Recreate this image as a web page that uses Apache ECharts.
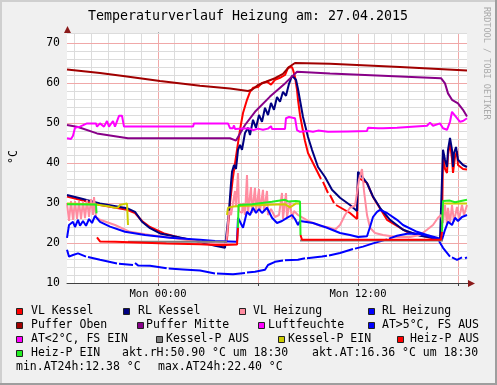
<!DOCTYPE html>
<html><head><meta charset="utf-8">
<script src="https://cdn.jsdelivr.net/npm/echarts@6/dist/echarts.min.js"></script>
<style>html,body{margin:0;padding:0;background:#f0f0f0}#c{width:497px;height:385px}</style>
</head><body><div id="c"></div>
<script>
// ---------- texts ----------
const chartTitle = 'Temperaturverlauf Heizung am: 27.04.2015';
const unitLabel = '°C';
const watermark = 'RRDTOOL / TOBI OETIKER';
const xTickValues = [0, 12];
const xTickLabels = ['Mon 00:00', 'Mon 12:00'];
const yTickValues = [10, 20, 30, 40, 50, 60, 70];
const seriesNames = ['VL Kessel','RL Kessel','VL Heizung','RL Heizung','Puffer Oben','Puffer Mitte','Luftfeuchte','AT>5°C, FS AUS','AT<2°C, FS EIN','Kessel-P AUS','Kessel-P EIN','Heiz-P AUS','Heiz-P EIN'];
const seriesColors = ['#ff0000','#000080','#ff8ca0','#0000ff','#a00000','#880088','#ff00ff','#0000ff','#ff00ff','#808080','#cccc00','#ff0000','#22ee22'];
const infoTexts = ['akt.rH:50.90 °C um 18:30','akt.AT:16.36 °C um 18:30','min.AT24h:12.38 °C','max.AT24h:22.40 °C'];

// ---------- data: [hours relative to Mon 00:00, °C] ----------
const vlKessel = [[-5.46,31.6],[-4.68,30.8],[-3.48,29.5],[-1.86,28.3],[-1.38,27.5],[-0.96,25.5],[-0.48,24.0],[0.42,22.3],[1.32,21.3],[2.52,20.3],[3.42,19.6],[4.02,19.2],[4.14,21.0],[4.32,30.0],[4.50,36.5],[4.74,43.3],[4.92,48.3],[5.10,52.5],[5.34,55.8],[5.52,57.8],[5.70,58.8],[6.00,59.0],[6.24,60.0],[6.54,60.3],[6.78,59.6],[7.02,60.8],[7.32,61.3],[7.62,62.0],[7.80,63.8],[8.04,64.0],[8.10,63.3],[8.22,61.5],[8.34,58.3],[8.40,55.8],[8.52,52.0],[8.70,48.0],[8.82,45.5],[9.00,42.5],[9.30,40.0],[9.60,37.5],[9.78,36.0],[9.84,null],[9.90,35.3],[10.20,32.5],[10.26,null],[10.32,32.0],[10.56,30.0],[10.62,null],[10.68,29.5],[10.74,29.0],[11.52,27.5],[11.94,26.0],[12.00,36.3],[12.24,35.8],[12.54,35.0],[12.90,31.5],[13.74,25.8],[14.94,22.8],[16.14,21.5],[16.92,20.8],[17.04,24.0],[17.10,42.0],[17.22,38.5],[17.34,37.5],[17.40,42.0],[17.52,45.0],[17.64,41.0],[17.70,37.5],[17.82,41.5],[17.94,43.0],[18.00,39.5],[18.12,39.0],[18.30,38.5],[18.54,38.4]];
const rlKessel = [[-5.46,32.0],[-4.68,31.2],[-3.48,29.9],[-1.86,28.7],[-1.38,27.8],[-0.96,25.3],[-0.48,23.7],[0.12,22.4],[1.02,21.6],[2.52,20.3],[3.42,19.3],[4.02,18.8],[4.14,19.2],[4.26,28.0],[4.38,35.0],[4.44,37.8],[4.56,39.5],[4.68,38.5],[4.80,43.3],[4.92,44.5],[5.04,43.3],[5.22,47.5],[5.40,48.8],[5.52,47.0],[5.70,50.8],[5.88,48.8],[6.06,52.0],[6.24,50.3],[6.42,53.8],[6.60,52.0],[6.78,55.0],[6.96,53.3],[7.14,56.5],[7.32,55.3],[7.50,57.8],[7.68,56.8],[7.86,59.8],[8.04,61.8],[8.16,62.3],[8.28,60.8],[8.40,58.5],[8.70,51.5],[9.00,46.5],[9.24,43.3],[9.60,39.0],[10.02,36.5],[10.44,33.3],[10.92,31.3],[11.52,29.5],[11.94,28.0],[12.00,37.8],[12.24,36.6],[12.54,35.0],[12.90,31.6],[13.32,28.8],[13.92,25.8],[14.70,23.3],[15.72,21.8],[16.50,21.3],[16.92,21.0],[17.04,21.5],[17.10,43.3],[17.22,40.8],[17.34,39.0],[17.40,43.3],[17.52,46.3],[17.64,43.3],[17.70,39.0],[17.76,42.5],[17.88,44.0],[18.00,40.8],[18.12,40.3],[18.30,39.5],[18.54,39.0]];
const vlHeizung = [[-5.46,30.0],[-5.34,25.5],[-5.22,30.5],[-5.10,25.8],[-4.98,30.5],[-4.86,26.0],[-4.74,30.5],[-4.62,26.0],[-4.50,30.5],[-4.38,26.2],[-4.26,30.8],[-4.14,26.5],[-4.02,31.0],[-3.90,27.0],[-3.84,31.5],[-3.72,26.5],[-3.48,25.8],[-2.58,24.5],[-1.68,22.8],[-0.48,22.0],[1.02,21.2],[2.52,20.3],[3.42,19.9],[4.08,19.7],[4.14,22.0],[4.26,28.0],[4.38,27.0],[4.62,33.0],[4.68,29.0],[4.80,37.5],[4.86,28.0],[5.04,27.5],[5.10,30.0],[5.22,27.0],[5.34,37.0],[5.40,27.5],[5.58,34.0],[5.64,27.5],[5.82,33.8],[5.88,28.0],[6.06,33.5],[6.12,28.0],[6.30,33.3],[6.36,28.0],[6.54,33.0],[6.60,27.0],[6.78,28.5],[7.02,26.5],[7.26,27.0],[7.44,32.5],[7.50,26.0],[7.68,32.5],[7.74,26.5],[7.92,30.3],[8.04,26.0],[8.16,28.0],[8.40,27.0],[8.52,26.5],[9.12,25.3],[9.72,24.3],[10.32,23.8],[10.62,23.3],[10.92,24.5],[11.22,27.0],[11.52,28.8],[11.82,29.3],[11.94,29.0],[12.06,35.8],[12.24,38.5],[12.36,33.0],[12.54,27.0],[12.72,23.8],[13.02,22.5],[13.50,22.0],[14.34,21.5],[15.12,21.5],[15.72,22.0],[16.14,23.3],[16.50,24.5],[16.80,26.3],[16.98,27.0],[17.10,25.0],[17.22,29.5],[17.34,24.5],[17.40,28.8],[17.52,25.0],[17.64,29.5],[17.76,25.3],[17.94,29.0],[18.06,26.0],[18.24,29.5],[18.36,27.0],[18.54,29.5]];
const rlHeizung = [[-5.46,21.3],[-5.34,24.5],[-5.28,24.5],[-5.10,25.3],[-4.98,24.0],[-4.80,25.8],[-4.68,24.3],[-4.50,25.5],[-4.32,24.3],[-4.14,26.0],[-3.96,25.0],[-3.78,26.8],[-3.48,25.3],[-2.88,24.1],[-1.98,22.8],[-0.78,22.0],[0.72,21.3],[2.52,20.8],[3.42,20.5],[4.74,20.3],[4.80,26.3],[5.10,23.8],[5.34,27.8],[5.52,27.0],[5.70,28.8],[5.88,27.5],[6.06,28.5],[6.24,27.5],[6.54,28.8],[6.84,26.3],[7.14,25.0],[7.44,25.5],[7.74,26.3],[8.04,27.0],[8.22,26.0],[8.40,24.5],[8.52,25.5],[9.30,25.0],[10.14,23.8],[10.92,22.5],[11.52,22.0],[12.00,21.5],[12.54,21.7],[12.72,24.0],[12.90,26.5],[13.14,27.8],[13.32,28.3],[13.74,27.5],[14.34,25.8],[14.70,24.5],[15.54,22.8],[16.14,22.0],[16.74,21.3],[17.04,20.8],[17.22,23.3],[17.40,25.3],[17.64,24.5],[17.82,26.3],[18.00,25.5],[18.24,26.5],[18.54,27.0]];
const pufferOben = [[-5.46,63.4],[-3.48,62.5],[-1.98,61.7],[0.12,60.5],[2.52,59.3],[4.32,58.6],[5.40,58.0],[5.64,58.3],[6.00,59.5],[6.48,60.3],[7.02,61.2],[7.50,62.3],[7.86,64.0],[8.22,65.0],[10.32,64.8],[14.52,64.0],[18.54,63.1]];
const pufferMitte = [[-5.46,49.5],[-4.80,49.0],[-3.66,47.4],[-1.80,46.2],[4.32,46.2],[4.68,45.6],[5.22,49.5],[5.82,52.8],[6.72,56.6],[7.62,59.9],[8.34,62.8],[10.32,62.4],[16.98,61.2],[17.22,59.9],[17.40,57.4],[17.64,55.8],[18.00,54.9],[18.30,53.3],[18.54,51.6]];
const luftfeuchte = [[-5.46,46.2],[-5.34,46.6],[-5.22,46.0],[-5.10,46.8],[-4.98,48.8],[-4.68,49.1],[-4.26,49.9],[-3.72,49.9],[-3.66,49.1],[-3.48,49.9],[-3.24,49.1],[-3.06,50.5],[-2.94,49.1],[-2.70,50.5],[-2.58,49.1],[-2.34,51.8],[-2.16,51.8],[-2.04,49.1],[-0.60,49.1],[-0.54,49.6],[-0.48,49.1],[0.90,49.1],[0.96,49.6],[1.02,49.1],[2.10,49.1],[2.16,49.9],[3.00,49.9],[3.06,50.3],[3.12,49.9],[4.20,49.9],[4.32,48.7],[4.50,48.7],[4.56,49.4],[4.62,48.5],[5.10,48.6],[5.16,48.2],[5.52,48.6],[5.70,48.2],[6.00,48.6],[6.30,48.3],[6.60,48.6],[6.78,49.2],[6.84,48.5],[7.62,48.5],[7.68,51.2],[7.86,51.5],[8.22,51.2],[8.34,48.2],[8.52,47.8],[9.00,48.0],[9.30,47.8],[9.60,48.1],[10.20,47.8],[11.40,47.9],[12.54,48.0],[12.60,48.8],[13.20,48.7],[13.26,49.1],[13.50,48.7],[14.34,48.8],[16.14,49.3],[16.32,50.1],[16.50,49.3],[16.92,49.9],[17.10,48.7],[17.34,48.3],[17.52,50.3],[17.64,52.8],[17.94,51.2],[18.12,50.3],[18.30,50.5],[18.54,51.2]];
const atWarm = [[-5.46,18.3],[-5.34,16.6],[-5.28,16.4],[-5.10,17.0],[-4.80,17.4],[-4.32,16.6],[-4.26,null],[-4.20,16.5],[-3.48,15.8],[-2.46,14.9],[-2.40,null],[-2.34,14.8],[-1.50,14.5],[-1.44,null],[-1.38,15.0],[-1.20,14.4],[-0.48,14.3],[0.52,13.7],[0.58,null],[0.64,13.6],[1.50,13.4],[2.52,13.1],[3.42,12.4],[3.48,null],[3.54,12.4],[4.50,12.2],[5.22,12.5],[5.28,null],[5.34,12.6],[5.82,12.8],[6.42,13.3],[6.60,14.5],[7.02,15.3],[7.50,15.6],[7.56,null],[7.62,15.7],[8.40,15.8],[8.82,16.2],[8.88,null],[8.94,16.2],[9.84,16.6],[10.14,16.8],[10.20,null],[10.26,16.9],[10.92,17.5],[11.70,18.5],[11.76,null],[11.82,18.6],[12.30,19.1],[12.90,19.9],[13.74,20.9],[13.80,null],[13.86,21.1],[14.34,21.8],[14.94,22.3],[15.54,22.4],[16.14,21.9],[16.74,20.8],[16.80,null],[16.86,20.5],[17.10,18.8],[17.52,16.6],[17.58,null],[17.64,16.4],[17.94,15.8],[18.24,16.4],[18.36,null],[18.42,16.2],[18.54,16.4]];
const atCold = [];
const kesselPAus = [[-1.80,20.3],[4.14,20.3],[4.20,null],[8.52,20.6],[17.10,20.6]];
const kesselPEin = [[-5.46,29.9],[-3.72,29.6],[-2.88,29.1],[-2.58,28.8],[-2.40,28.9],[-2.28,29.5],[-1.86,29.9],[-1.80,24.5],[-1.74,null],[4.14,27.0],[4.20,28.8],[4.50,29.1],[6.24,29.5],[7.62,29.7],[7.92,28.9],[8.28,29.9],[8.46,29.9],[8.52,null],[17.16,29.9],[18.54,29.9]];
const heizPAus = [[-3.66,21.4],[-3.48,20.4],[-2.58,20.3],[-1.68,20.2],[0.50,19.9],[2.52,19.7],[3.42,19.5],[4.02,19.5],[4.74,19.6],[4.80,23.8],[4.83,null],[8.55,22.0],[8.64,20.8],[12.00,20.8],[16.98,20.8],[17.04,22.8]];
const heizPEin = [[-5.46,29.7],[-3.72,29.6],[-3.69,27.4],[-3.66,null],[4.80,23.8],[4.83,29.5],[5.64,29.7],[6.84,30.3],[7.62,30.8],[7.80,30.4],[8.28,30.5],[8.52,30.4],[8.55,22.0],[8.58,null],[17.04,22.8],[17.10,30.5],[17.52,30.6],[17.82,30.2],[18.54,30.8]];
const seriesData = [vlKessel, rlKessel, vlHeizung, rlHeizung, pufferOben, pufferMitte, luftfeuchte, atWarm, atCold, kesselPAus, kesselPEin, heizPAus, heizPEin];

// ---------- layout / style ----------
const X_MIN = -5.46, X_MAX = 18.54, Y_MIN = 10, Y_MAX = 72.5;
const MONO = 'DejaVu Sans Mono';
const MINOR = '#dcdcdc', MAJOR = '#f0a8a8';
const grid = {left: 67, right: 30, top: 33, bottom: 102};

const gridLines = [];
for (let h = Math.ceil(X_MIN); h <= Math.floor(X_MAX); h++)
  gridLines.push({xAxis: h, lineStyle: {color: h % 6 === 0 ? MAJOR : MINOR, width: 1, type: 'solid'}});
for (let v = 12; v <= 70; v += 2)
  gridLines.push({yAxis: v, lineStyle: {color: v % 10 === 0 ? MAJOR : MINOR, width: 1, type: 'solid'}});
gridLines.push({yAxis: Y_MAX, lineStyle: {color: MINOR, width: 1, type: 'solid'}});

const series = [{
  type: 'line', data: [[X_MIN, null]], symbol: 'none', silent: true, z: 1,
  markLine: {silent: true, z: 1, symbol: ['none', 'none'], label: {show: false}, animation: false, data: gridLines}
}];
seriesNames.forEach((n, i) => series.push({
  name: n, type: 'line', data: seriesData[i], symbol: 'none', showSymbol: false,
  connectNulls: false, z: 3, animation: false,
  lineStyle: {color: seriesColors[i], width: 2}, itemStyle: {color: seriesColors[i]}
}));

// legend layout [seriesIndex, squareX, textX, row]
const legendLayout = [[0,16,31,0],[1,123,138,0],[2,239,253,0],[3,368,382,0],
  [4,16,31,1],[5,137,146,1],[6,258,268,1],[7,368,382,1],
  [8,16,31,2],[9,156,166,2],[10,278,288,2],[11,397,410,2],[12,16,31,3]];
const infoLayout = [[122,3],[312,3],[16,4],[158,4]];
const rowY = [311.5, 325.5, 339.5, 353.5, 367.5];

const graphics = [
  {type: 'rect', shape: {x: 0, y: 0, width: 497, height: 2}, style: {fill: '#cfcfcf'}, z: 100},
  {type: 'rect', shape: {x: 0, y: 0, width: 2, height: 385}, style: {fill: '#cfcfcf'}, z: 100},
  {type: 'rect', shape: {x: 0, y: 383, width: 497, height: 2}, style: {fill: '#9e9e9e'}, z: 100},
  {type: 'rect', shape: {x: 495, y: 0, width: 2, height: 385}, style: {fill: '#9e9e9e'}, z: 100},
  {type: 'text', x: 248, y: 16.5, style: {text: chartTitle, font: '13.3px "' + MONO + '"', fill: '#000', align: 'center', verticalAlign: 'middle'}},
  {type: 'text', x: 486, y: 7, rotation: -Math.PI / 2, style: {text: watermark, font: '8.5px "' + MONO + '"', fill: '#aaaaaa', align: 'left', verticalAlign: 'middle'}},
  {type: 'text', x: 14, y: 157, rotation: Math.PI / 2, style: {text: unitLabel, font: '11.5px "' + MONO + '"', fill: '#000', align: 'center', verticalAlign: 'middle'}},
  {type: 'line', shape: {x1: 67.5, y1: 33, x2: 67.5, y2: 29}, style: {stroke: '#404040', lineWidth: 1}, z: 50},
  {type: 'polygon', shape: {points: [[64, 33], [71, 33], [67.5, 26]]}, style: {fill: '#8b1a1a'}, z: 50},
  {type: 'line', shape: {x1: 467, y1: 283.5, x2: 469, y2: 283.5}, style: {stroke: '#404040', lineWidth: 1}, z: 50},
  {type: 'polygon', shape: {points: [[468, 280], [468, 287], [475, 283.5]]}, style: {fill: '#8b1a1a'}, z: 50}
];
legendLayout.forEach(([si, sx, tx, r]) => {
  graphics.push({type: 'rect', shape: {x: sx + 0.5, y: rowY[r] - 3, width: 6, height: 6}, style: {fill: seriesColors[si], stroke: '#222', lineWidth: 1}});
  graphics.push({type: 'text', x: tx, y: rowY[r], style: {text: seriesNames[si], font: '11.5px "' + MONO + '"', fill: '#000', align: 'left', verticalAlign: 'middle'}});
});
infoLayout.forEach(([tx, r], i) => {
  graphics.push({type: 'text', x: tx, y: rowY[r], style: {text: infoTexts[i], font: '11.5px "' + MONO + '"', fill: '#000', align: 'left', verticalAlign: 'middle'}});
});

const chart = echarts.init(document.getElementById('c'), null, {renderer: 'canvas', width: 497, height: 385});
chart.setOption({
  backgroundColor: '#f0f0f0',
  animation: false,
  grid: Object.assign({show: true, backgroundColor: '#ffffff', borderWidth: 0, containLabel: false, outerBoundsMode: 'none'}, grid),
  xAxis: {
    type: 'value', min: X_MIN, max: X_MAX,
    axisLine: {show: true, onZero: false, lineStyle: {color: '#404040', width: 1}},
    splitLine: {show: false},
    axisTick: {show: true, customValues: [0, 6, 12, 18], length: 3, inside: false, lineStyle: {color: '#404040'}},
    axisLabel: {customValues: xTickValues, margin: 6, color: '#000', fontFamily: MONO, fontSize: 10.5,
      formatter: v => xTickLabels[xTickValues.indexOf(Math.round(v))] || ''}
  },
  yAxis: {
    type: 'value', min: Y_MIN, max: Y_MAX,
    axisLine: {show: true, lineStyle: {color: '#404040', width: 1}},
    splitLine: {show: false},
    axisTick: {show: false},
    axisLabel: {customValues: yTickValues, margin: 7, color: '#000', fontFamily: MONO, fontSize: 11.5, formatter: v => String(Math.round(v))}
  },
  series: series,
  graphic: graphics
});
</script></body></html>
